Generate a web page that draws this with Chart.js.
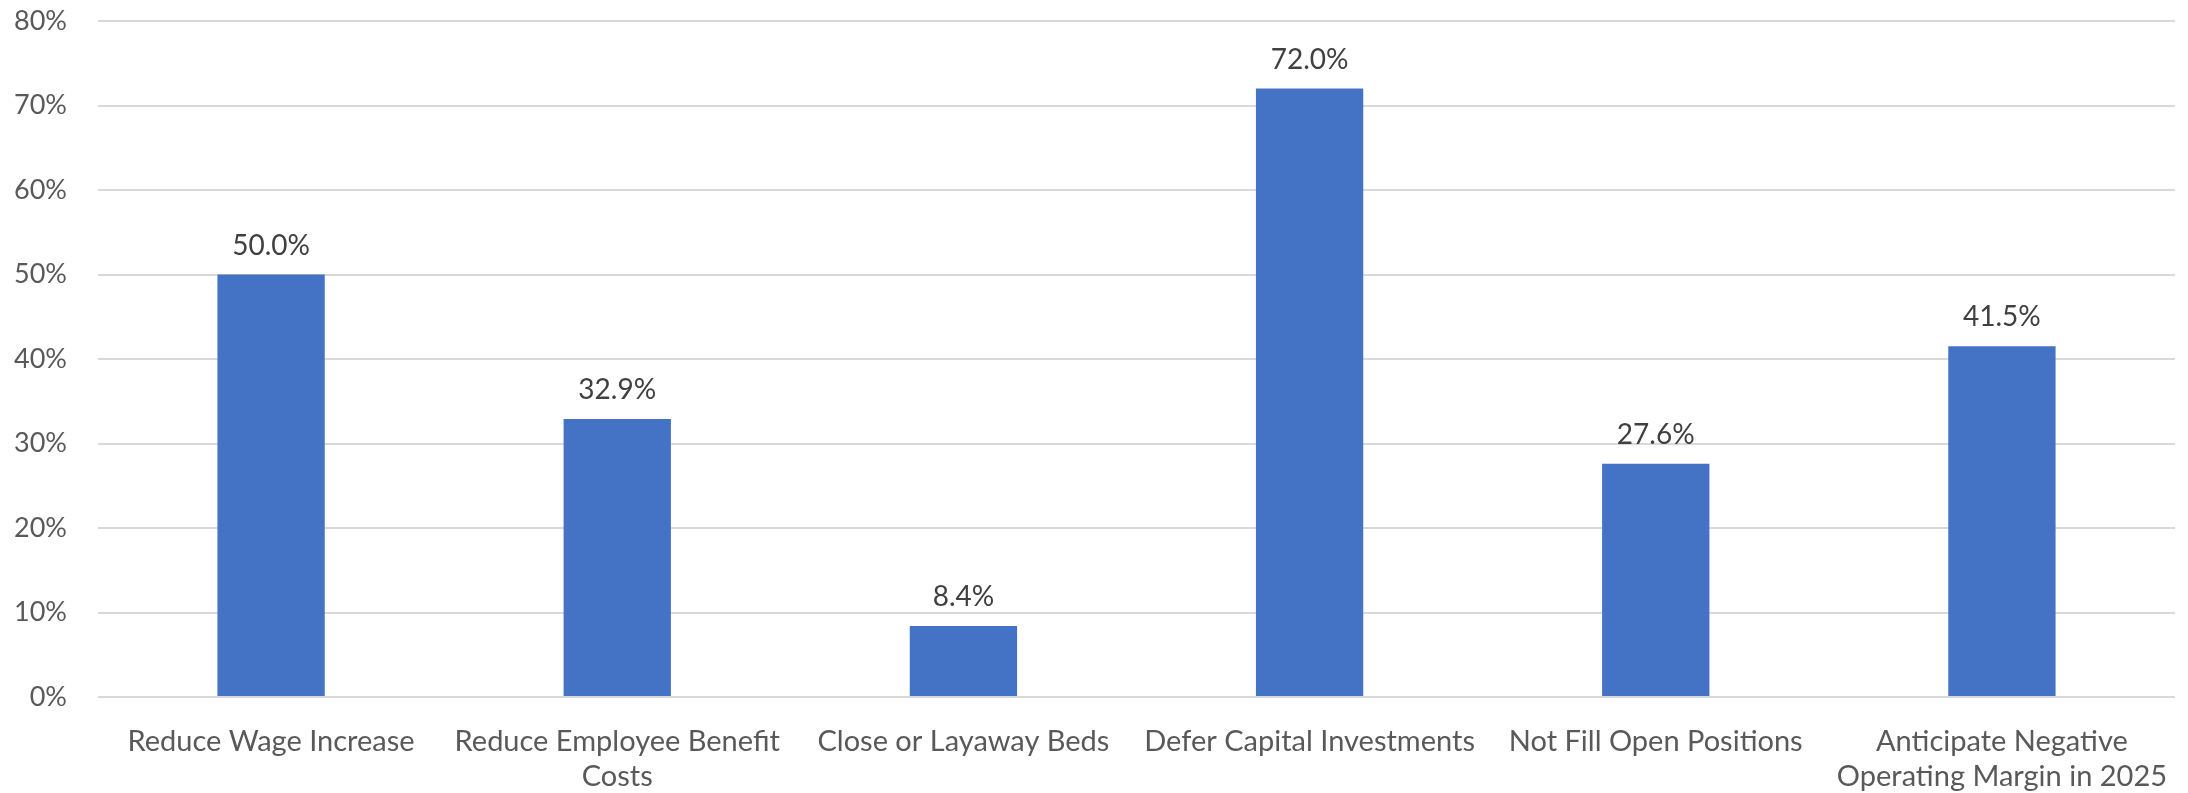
<!DOCTYPE html>
<html>
<head>
<meta charset="utf-8">
<script src="https://cdn.jsdelivr.net/npm/chart.js@4/dist/chart.umd.min.js"></script>
<style>
  html, body { margin: 0; padding: 0; background: #fff; }
  #wrap { width: 2188px; height: 793px; }
</style>
</head>
<body>
<div id="wrap"><canvas id="myChart" width="2188" height="793"></canvas></div>
<script>
const categories = [
    "Reduce Wage Increase",
    ["Reduce Employee Benefit", "Costs"],
    "Close or Layaway Beds",
    "Defer Capital Investments",
    "Not Fill Open Positions",
    ["Anticipate Negative", "Operating Margin in 2025"]
];
const shares = [50.0, 32.9, 8.4, 72.0, 27.6, 41.5];
const yTicks = [0, 10, 20, 30, 40, 50, 60, 70, 80];

const fontFamily = "Lato, 'Open Sans', sans-serif";

// write the value on top of each bar
const barLabels = {
    id: 'barLabels',
    afterDatasetsDraw(chart) {
        const ctx = chart.ctx;
        const meta = chart.getDatasetMeta(0);
        ctx.save();
        ctx.font = `28px ${fontFamily}`;
        ctx.fillStyle = '#404040';
        ctx.textAlign = 'center';
        ctx.textBaseline = 'middle';
        meta.data.forEach((bar, i) => {
            ctx.fillText(shares[i].toFixed(1) + '%', bar.x, bar.y - 29);
        });
        ctx.restore();
    }
};

const ctx = document.getElementById('myChart').getContext('2d');
const myChart = new Chart(ctx, {
    type: 'bar',
    data: {
        labels: categories,
        datasets: [{
            data: shares,
            backgroundColor: '#4472c4',
            borderWidth: 0,
            categoryPercentage: 1,
            barPercentage: 0.31
        }]
    },
    options: {
        responsive: false,
        animation: false,
        layout: { padding: { top: 21, right: 13, left: 0, bottom: 0 } },
        plugins: {
            legend: { display: false },
            tooltip: { enabled: false }
        },
        scales: {
            x: {
                grid: { display: false },
                border: { display: false },
                ticks: {
                    color: '#595959',
                    font: { family: fontFamily, size: 29 },
                    padding: 19,
                    maxRotation: 0,
                    autoSkip: false
                },
                afterFit(scale) {
                    scale.height = 96;
                    scale.paddingLeft = 0;
                    scale.paddingRight = 0;
                }
            },
            y: {
                min: 0,
                max: 80,
                afterBuildTicks(scale) {
                    scale.ticks = yTicks.map(v => ({ value: v }));
                },
                grid: { color: '#d9d9d9', lineWidth: 2, drawTicks: false },
                border: { display: false },
                ticks: {
                    color: '#595959',
                    font: { family: fontFamily, size: 27 },
                    padding: 31,
                    callback: v => v + '%'
                },
                afterFit(scale) {
                    scale.width = 98;
                    scale.paddingTop = 0;
                    scale.paddingBottom = 0;
                }
            }
        }
    },
    plugins: [barLabels]
});
</script>
</body>
</html>
